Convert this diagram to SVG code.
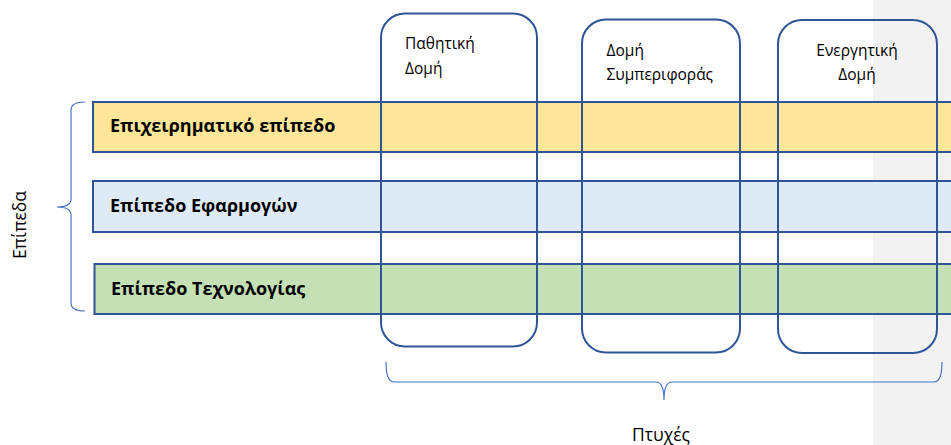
<svg xmlns="http://www.w3.org/2000/svg" width="951" height="445" viewBox="0 0 951 445">
<style>
.band{stroke:#2f5597;stroke-width:2}
.col{fill:none;stroke:#2f5597;stroke-width:2}
.brace{fill:none;stroke:#4472c4;stroke-width:1.2}
.bt{font-family:"Open Sans","Noto Sans",sans-serif;font-weight:bold;font-size:18px;fill:#000}
.ct{font-family:"Open Sans","Noto Sans",sans-serif;font-size:15.5px;fill:#000}
.lt{font-family:"Open Sans","Noto Sans",sans-serif;font-size:17.5px;fill:#000}
</style>
<rect x="873" y="0" width="78" height="445" fill="#f2f2f2"/>
<g id="band-business">
<rect class="band" x="93" y="102" width="870" height="50" fill="#ffe699"/>
<text class="bt" x="110" y="132">Επιχειρηματικό επίπεδο</text>
</g>
<g id="band-application">
<rect class="band" x="93" y="181" width="870" height="51" fill="#deebf7"/>
<text class="bt" x="110" y="212">Επίπεδο Εφαρμογών</text>
</g>
<g id="band-technology">
<rect class="band" x="94.5" y="264" width="870" height="50" fill="#c5e0b4"/>
<text class="bt" x="111" y="295">Επίπεδο Τεχνολογίας</text>
</g>
<g id="col-passive">
<rect class="col" x="381" y="13.5" width="156" height="333" rx="24" ry="24"/>
<text class="ct" x="405" y="48.5">Παθητική</text>
<text class="ct" x="405" y="73.5">Δομή</text>
</g>
<g id="col-behavior">
<rect class="col" x="582" y="19.5" width="158" height="333" rx="24" ry="24"/>
<text class="ct" x="606.5" y="56">Δομή</text>
<text class="ct" x="606.5" y="80">Συμπεριφοράς</text>
</g>
<g id="col-active">
<rect class="col" x="778" y="20" width="159" height="333" rx="24" ry="24"/>
<text class="ct" x="857" y="56" text-anchor="middle">Ενεργητική</text>
<text class="ct" x="857" y="80" text-anchor="middle">Δομή</text>
</g>
<g id="connectors">
<path class="brace" d="M85,102 Q71,102 71,110 L71,199 Q71,207 57,207 Q71,207 71,215 L71,303 Q71,311 85,311"/>
<path class="brace" d="M386,362 Q386,382 394,382 L656,382 Q664,382 664,400 Q664,382 672,382 L934,382 Q942,382 942,362"/>
</g>
<g id="label-layers">
<text class="lt" x="26" y="225" text-anchor="middle" transform="rotate(-90 26 225)">Επίπεδα</text>
</g>
<g id="label-aspects">
<text class="lt" x="661" y="441" text-anchor="middle">Πτυχές</text>
</g>
</svg>
